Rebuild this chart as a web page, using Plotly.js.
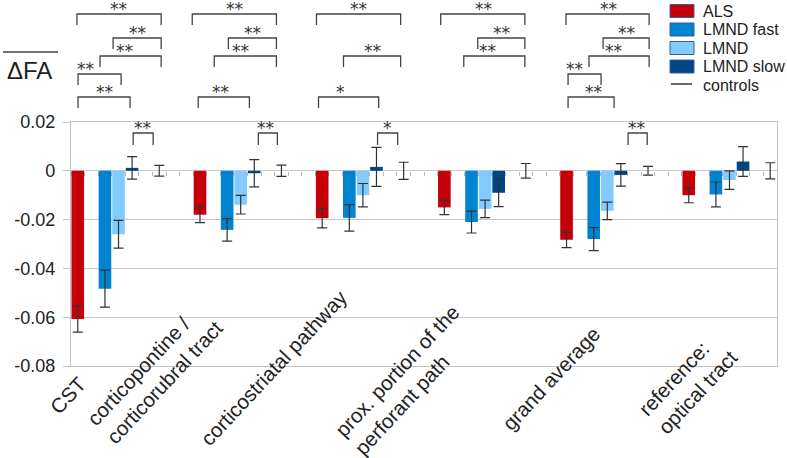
<!DOCTYPE html>
<html><head><meta charset="utf-8">
<script src="https://cdn.plot.ly/plotly-3.0.1.min.js"></script>
<style>html,body{margin:0;padding:0;background:#fff}#chart{width:787px;height:458px}</style>
</head><body><div id="chart"></div>
<script>
// ---- data ----
const categories = ["CST", "corticopontine /<br>corticorubral tract", "corticostriatal pathway",
  "prox. portion of the<br>perforant path", "grand average", "reference:<br>optical tract"];
const seriesNames = ["ALS", "LMND fast", "LMND", "LMND slow", "controls"];
const als         = [-0.0607, -0.0180, -0.0194, -0.0150, -0.0283, -0.0100];
const alsErr      = [ 0.0054,  0.0032,  0.0040,  0.0030,  0.0032,  0.0031];
const lmndFast    = [-0.0483, -0.0242, -0.0193, -0.0210, -0.0280, -0.0097];
const lmndFastErr = [ 0.0076,  0.0046,  0.0054,  0.0045,  0.0047,  0.0051];
const lmnd        = [-0.0260, -0.0139, -0.0100, -0.0156, -0.0164, -0.0038];
const lmndErr     = [ 0.0057,  0.0038,  0.0048,  0.0036,  0.0036,  0.0038];
const lmndSlow    = [ 0.0012, -0.0010,  0.0016, -0.0090, -0.0017,  0.0038];
const lmndSlowErr = [ 0.0046,  0.0056,  0.0080,  0.0057,  0.0046,  0.0061];
const controls    = [0, 0, 0, 0, 0, 0];
const controlsErr = [0.0022, 0.0023, 0.0035, 0.0030, 0.0018, 0.0033];
const yTickVals = [0.02, 0, -0.02, -0.04, -0.06, -0.08];
const yTickText = ["0.02", "0", "-0.02", "-0.04", "-0.06", "-0.08"];
// significance brackets: [from slot, to slot, level px from top, label, label slot]
const sigLabels = ["**", "*"];
const brackets = [
  [0.44, 6.64, 14, 0, 3.47], [3.10, 6.64, 38, 0, 4.87], [2.14, 6.64, 56, 0, 3.96],
  [0.52, 3.69, 74, 0, 1.07], [0.52, 4.35, 97, 0, 2.44], [4.58, 6.05, 133, 0, 5.24],
  [8.93, 15.13, 14, 0, 12.07], [11.59, 15.13, 38, 0, 13.36], [10.55, 15.13, 56, 0, 12.47],
  [9.37, 13.14, 97, 0, 11.0], [13.80, 15.20, 133, 0, 14.32],
  [18.08, 24.28, 14, 0, 21.18], [20.07, 24.28, 56, 0, 22.21], [18.23, 22.66, 97, 1, 19.85],
  [22.58, 24.06, 133, 1, 23.32],
  [27.23, 33.43, 14, 0, 30.41], [29.96, 33.43, 38, 0, 31.73], [28.93, 33.43, 56, 0, 30.70],
  [36.46, 42.58, 14, 0, 39.56], [39.19, 42.58, 38, 0, 40.89], [38.15, 42.58, 56, 0, 39.93],
  [36.61, 39.04, 74, 0, 37.05], [36.61, 40.00, 97, 0, 38.52], [41.03, 42.44, 133, 0, 41.62]
];

// ---- layout constants ----
const W = 787, H = 458, ML = 71, MR = 10, MT = 122, MB = 92;
const PH = H - MT - MB, PW = W - ML - MR;
const py = p => (H - MB - p) / PH;      // pixel-from-top -> paper y
const pxp = p => (p - ML) / PW;         // pixel-from-left -> paper x
const groupSlots = 9, nSlots = 52;
const slotOffsets = [0.5, 2.5, 3.5, 4.5, 6.5];
const colors = ["#c5000b", "#0084d1", "#83caff", "#004586", "#333333"];
const FONT = "Liberation Sans, Arial, sans-serif";
const xs = k => categories.map((_, g) => g * groupSlots + slotOffsets[k]);

const vals = [als, lmndFast, lmnd, lmndSlow];
const errs = [alsErr, lmndFastErr, lmndErr, lmndSlowErr];
const traces = vals.map((v, k) => ({
  type: "bar", name: seriesNames[k], x: xs(k), y: v, width: 0.93,
  marker: {color: colors[k], line: {width: 0}},
  error_y: {type: "data", array: errs[k], visible: true, color: "#333", thickness: 1.2, width: 5},
  hoverinfo: "skip"
}));
traces.push({
  type: "scatter", mode: "markers", name: seriesNames[4], x: xs(4), y: controls,
  xaxis: "x2",
  marker: {color: "rgba(0,0,0,0)", size: 2},
  error_y: {type: "data", array: controlsErr, visible: true, color: "#333", thickness: 1.2, width: 5},
  hoverinfo: "skip"
});

const shapes = [], annotations = [];
// brackets
brackets.forEach(b => {
  const leg = b[2] + (b[2] > 120 ? 12 : 11);
  shapes.push({type: "path", xref: "x", yref: "paper",
    path: `M${b[0]},${py(leg)} L${b[0]},${py(b[2])} L${b[1]},${py(b[2])} L${b[1]},${py(leg)}`,
    line: {color: "#444", width: 1.3}});
  annotations.push({xref: "x", yref: "paper", x: b[4], y: py(b[2]), text: sigLabels[b[3]],
    showarrow: false, xanchor: "center", yanchor: "middle", yshift: 5,
    font: {family: "DejaVu Sans", size: 17, color: "#333"}});
});
// x category labels (rotated)
const labelSlot = [-0.26, 6.16, 14.94, 24.72, 35.35, 45.43];
const labelPy = [395, 372.5, 367.5, 379.5, 378.5, 382.5];
categories.forEach((c, g) => annotations.push({
  xref: "paper", yref: "paper", x: labelSlot[g] / nSlots, y: py(labelPy[g]), text: c, textangle: -47,
  showarrow: false, xanchor: "center", yanchor: "middle", align: "left",
  font: {family: FONT, size: 20.5, color: "#222"}
}));
// y title with overline
annotations.push({xref: "paper", yref: "paper", x: pxp(5), y: py(71), text: "ΔFA",
  showarrow: false, xanchor: "left", yanchor: "middle", font: {family: FONT, size: 24, color: "#222"}});
shapes.push({type: "line", xref: "paper", yref: "paper", x0: pxp(3), x1: pxp(58), y0: py(52), y1: py(52),
  line: {color: "#444", width: 1.5}});
// legend
const legRows = [11, 29.5, 48, 66.5, 85];
seriesNames.forEach((n, k) => {
  if (k < 4) {
    shapes.push({type: "rect", xref: "paper", yref: "paper", x0: pxp(670), x1: pxp(694),
      y0: py(legRows[k] + 6.5), y1: py(legRows[k] - 6.5), fillcolor: colors[k],
      line: {color: "#3b5f99", width: 1}});
  } else {
    shapes.push({type: "line", xref: "paper", yref: "paper", x0: pxp(671), x1: pxp(692),
      y0: py(legRows[k] - 1), y1: py(legRows[k] - 1), line: {color: "#333", width: 1.5}});
  }
  annotations.push({xref: "paper", yref: "paper", x: pxp(701), y: py(legRows[k]), text: n,
    showarrow: false, xanchor: "left", yanchor: "middle", font: {family: FONT, size: 16, color: "#222"}});
});

const layout = {
  width: W, height: H, margin: {l: ML, r: MR, t: MT, b: MB},
  paper_bgcolor: "#fff", plot_bgcolor: "#fff", showlegend: false, barmode: "overlay",
  xaxis: {range: [0, nSlots], showgrid: false, zeroline: false, showline: true, mirror: true,
    linecolor: "#c4c4c4", linewidth: 1.2, showticklabels: false, ticks: ""},
  xaxis2: {range: [0, nSlots], overlaying: "x", anchor: "free", position: 0.8, side: "bottom",
    showgrid: false, zeroline: false, showline: false, showticklabels: false,
    tickvals: Array.from({length: nSlots + 1}, (_, i) => i), ticks: "outside", ticklen: 4,
    tickcolor: "#b8b8b8", tickwidth: 1, layer: "below traces"},
  yaxis: {range: [-0.08, 0.02], tickvals: yTickVals, ticktext: yTickText, showgrid: true,
    gridcolor: "#c8c8c8", gridwidth: 1.2, zeroline: false, showline: true, mirror: true,
    linecolor: "#c4c4c4", linewidth: 1.2, ticks: "outside", ticklen: 7, tickcolor: "#c4c4c4",
    ticklabelstandoff: 4, tickfont: {family: FONT, size: 18, color: "#222"}},
  shapes: shapes, annotations: annotations
};
Plotly.newPlot("chart", traces, layout, {staticPlot: true, displayModeBar: false});
</script></body></html>
